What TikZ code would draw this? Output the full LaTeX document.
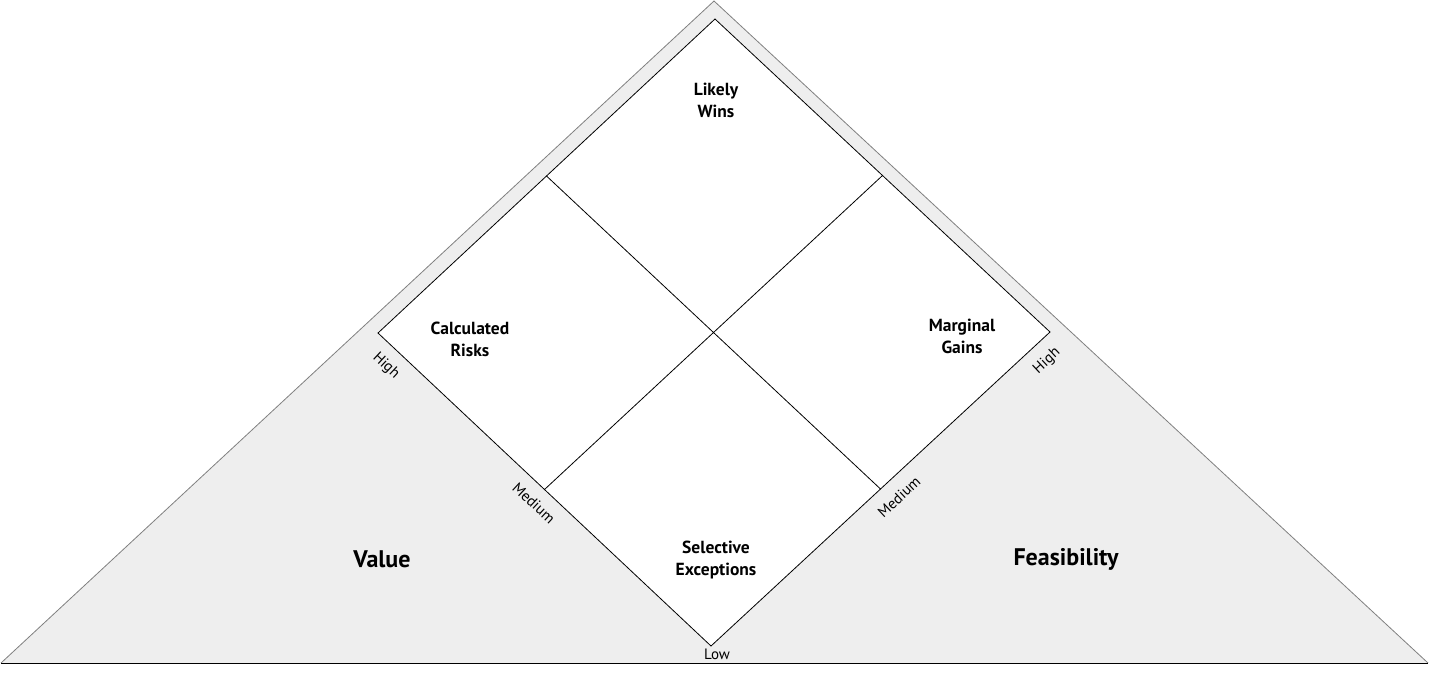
\documentclass[tikz,border=0pt]{standalone}
\usepackage{fontspec}
\setmainfont{PT Sans}
\usetikzlibrary{positioning,calc}
\definecolor{zonefill}{HTML}{EEEEEE}
\definecolor{zoneline}{HTML}{808080}
\definecolor{baseline}{HTML}{666666}

\begin{document}
\begin{tikzpicture}[
  x=1pt, y=-1pt,
  quad/.style={font=\bfseries\fontsize{17.5}{22}\selectfont, align=center},
  axis/.style={font=\bfseries\fontsize{24}{28}\selectfont},
  tick/.style={font=\fontsize{15}{17}\selectfont, inner sep=1pt},
  edge/.style={draw=black, line width=0.8pt}
]
  \useasboundingbox (0,0) rectangle (1429,673);
  % Dreieck als Hintergrund
  \coordinate (apex) at (714,1);
  \coordinate (bl)   at (1,663);
  \coordinate (br)   at (1428,663);
  \fill[zonefill] (apex) -- (br) -- (bl) -- cycle;
  \draw[zoneline, line width=0.8pt] (bl) -- (apex) -- (br);
  \draw[baseline, line width=1pt] (bl) -- (br);
  % Raute mit vier Feldern
  \coordinate (dt) at (715,19);
  \coordinate (dl) at (378,333);
  \coordinate (dr) at (1050,332);
  \coordinate (db) at (711,646);
  \filldraw[fill=white, edge] (dt) -- (dr) -- (db) -- (dl) -- cycle;
  \draw[edge] ($(dt)!0.5!(dl)$) coordinate (mtl) -- ($(dr)!0.5!(db)$) coordinate (mbr);
  \draw[edge] ($(dt)!0.5!(dr)$) coordinate (mtr) -- ($(dl)!0.5!(db)$) coordinate (mbl);
  % Feldnamen
  \node[quad] (wins)  at (716,100) {Likely\\Wins};
  \node[quad] (risks) at (470,339) {Calculated\\Risks};
  \node[quad] (gains) at (962,336) {Marginal\\Gains};
  \node[quad] (excep) at (716,560) {Selective\\Exceptions};
  % Achsen
  \node[axis] (value) at (382,559) {Value};
  \node[axis] (feas)  at (1066,559) {Feasibility};
  \node[tick, rotate=-43] (vhigh) at (386,366) {High};
  \node[tick, rotate=-43] (vmed)  at (534,503) {Medium};
  \node[tick, rotate=43]  (fhigh) at (1047,361) {High};
  \node[tick, rotate=43]  (fmed)  at (899,497) {Medium};
  \node[tick] (low) at (717,654) {Low};
\end{tikzpicture}
\end{document}
